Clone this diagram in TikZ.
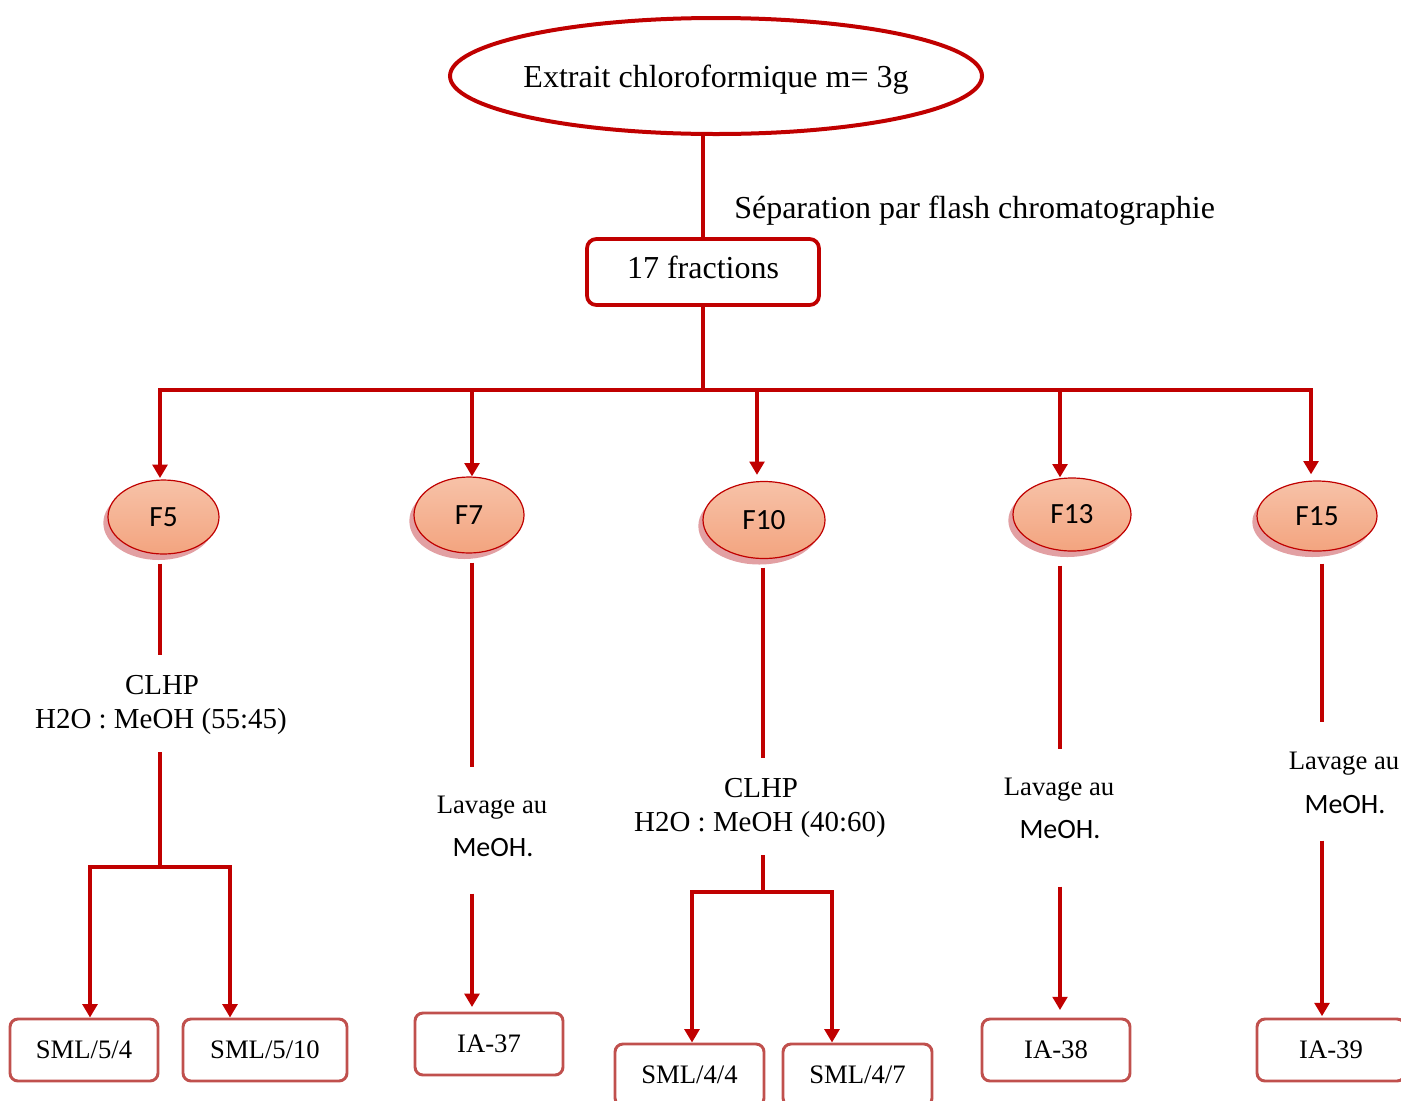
\documentclass[tikz,border=0pt]{standalone}
\usepackage{fontspec}
\setmainfont{Liberation Serif}
\newfontfamily\carlito{Carlito}
\usetikzlibrary{shapes.geometric,arrows.meta,shadows}

\definecolor{darkred}{HTML}{C00000}
\definecolor{boxred}{HTML}{C0504D}
\definecolor{salmontop}{HTML}{F7C2A8}
\definecolor{salmonbot}{HTML}{F3A47F}
\definecolor{shadowpink}{HTML}{E2A0A3}

\tikzset{
  wire/.style={draw=darkred, line width=2.8pt},
  arr/.style={wire, -{Triangle[length=10pt,width=11pt]}},
  txt/.style={inner sep=0pt, anchor=base},
  big/.style={font=\fontsize{24}{28}\selectfont},
  mid/.style={font=\fontsize{21.7}{26}\selectfont},
  small/.style={font=\fontsize{20}{24}\selectfont},
  calib/.style={font=\carlito\fontsize{21}{25}\selectfont},
  frac/.style={ellipse, draw=darkred, line width=0.9pt, top color=salmontop,
    bottom color=salmonbot, inner sep=0pt, font=\carlito\fontsize{22}{26}\selectfont,
    drop shadow={shadow xshift=-3.5pt, shadow yshift=-4.5pt, fill=shadowpink, opacity=1}},
  result/.style={rectangle, draw=boxred, line width=2.2pt, rounded corners=6pt,
    minimum height=46.5pt, inner sep=0pt, font=\fontsize{20}{24}\selectfont},
}

\begin{document}
\begin{tikzpicture}[x=0.75pt,y=-0.75pt]
\useasboundingbox (0,0) rectangle (1401,1100);

% extract and flash chromatography
\node[ellipse, draw=darkred, line width=3pt, minimum width=399pt, minimum height=87pt,
  inner sep=0pt] (ext) at (716,76) {};
\node[big, inner sep=0pt, text depth=0pt] (extlbl) at (ext.center) {Extrait chloroformique m= 3g};
\node[rectangle, draw=darkred, line width=2.8pt, rounded corners=7pt, minimum width=174pt,
  minimum height=49.5pt, big, text depth=7pt] (f17) at (703,272) {17 fractions};
\draw[wire] (ext.south -| f17.north) -- (f17.north);
\node[txt, anchor=base west, big] (sep) at (734,218) {Séparation par flash chromatographie};

% distribution bar
\coordinate (k5) at (160,390);
\coordinate (k7) at (472,390);
\coordinate (k10) at (757,390);
\coordinate (k13) at (1060,390);
\coordinate (k15) at (1311,390);
\draw[wire] (f17.south) -- (f17.south |- k5);
\draw[wire, line cap=rect] (k5) -- (k15);

% selected fractions
\node[frac, minimum width=83.25pt, minimum height=55.5pt] (F5) at (163.5,517) {F5};
\node[frac, minimum width=82.5pt, minimum height=57pt] (F7) at (469,515) {F7};
\node[frac, minimum width=91.5pt, minimum height=57.75pt] (F10) at (764,520) {F10};
\node[frac, minimum width=88.5pt, minimum height=54.75pt] (F13) at (1072,514.5) {F13};
\node[frac, minimum width=90pt, minimum height=52.5pt] (F15) at (1317,516) {F15};

\draw[arr, shorten >=1pt] (k5) -- (k5 |- F5.north);
\draw[arr] (k7) -- (k7 |- F7.north);
\draw[arr, shorten >=4.5pt] (k10) -- (k10 |- F10.north);
\draw[arr] (k13) -- (k13 |- F13.north);
\draw[arr, shorten >=4.5pt] (k15) -- (k15 |- F15.north);

% F5: HPLC
\node[txt, mid] (c5a) at (162,694) {CLHP};
\node[txt, mid] (c5b) at (161,728) {H2O : MeOH (55:45)};
\coordinate (j5) at (160,867);
\coordinate (j5l) at (90,867);
\coordinate (j5r) at (230,867);
\draw[wire, shorten <=6.75pt, shorten >=15pt] (F5.south -| k5) -- (k5 |- c5a.north);
\draw[wire, shorten <=13.3pt] (k5 |- c5b.south) -- (j5);
\draw[wire, line cap=rect] (j5l) -- (j5r);
\node[result, minimum width=111pt] (s54) at (84,1050) {SML/5/4};
\node[result, minimum width=123pt] (s510) at (265,1050) {SML/5/10};
\draw[arr] (j5l) -- (j5l |- s54.north);
\draw[arr] (j5r) -- (j5r |- s510.north);

% F7: methanol wash
\node[txt, small] (l7a) at (492,813) {Lavage au};
\node[txt, calib] (m7) at (493,856) {MeOH.};
\node[result, minimum width=111pt] (ia37) at (489,1044) {IA-37};
\draw[wire, shorten <=6.75pt, shorten >=21pt] (F7.south -| k7) -- (k7 |- l7a.north);
\draw[arr, shorten <=27.75pt, shorten >=3.4pt] (k7 |- m7.south) -- (k7 |- ia37.north);

% F10: HPLC
\coordinate (j10) at (763,892);
\coordinate (j10l) at (692,892);
\coordinate (j10r) at (832,892);
\node[txt, mid] (c10a) at (761,797) {CLHP};
\node[txt, mid] (c10b) at (760,831) {H2O : MeOH (40:60)};
\draw[wire, shorten <=6.4pt, shorten >=14.85pt] (F10.south -| j10) -- (j10 |- c10a.north);
\draw[wire, shorten <=13.3pt] (j10 |- c10b.south) -- (j10);
\draw[wire, line cap=rect] (j10l) -- (j10r);
\node[result, minimum width=111.75pt] (s44) at (689.5,1075) {SML/4/4};
\node[result, minimum width=111.75pt] (s47) at (857.5,1075) {SML/4/7};
\draw[arr] (j10l) -- (j10l |- s44.north);
\draw[arr] (j10r) -- (j10r |- s47.north);

% F13: methanol wash
\node[txt, small] (l13a) at (1059,795) {Lavage au};
\node[txt, calib] (m13) at (1060,838) {MeOH.};
\node[result, minimum width=111pt] (ia38) at (1056,1050) {IA-38};
\draw[wire, shorten <=10.5pt, shorten >=21.2pt] (F13.south -| k13) -- (k13 |- l13a.north);
\draw[arr, shorten <=36pt, shorten >=5.6pt] (k13 |- m13.south) -- (k13 |- ia38.north);

% F15: methanol wash
\coordinate (d15) at (1322,563);
\node[txt, small] (l15a) at (1344,769) {Lavage au};
\node[txt, calib] (m15) at (1345,813) {MeOH.};
\node[result, minimum width=111pt] (ia39) at (1331,1050) {IA-39};
\draw[wire, shorten <=9pt, shorten >=22pt] (F15.south -| d15) -- (d15 |- l15a.north);
\draw[arr, shorten <=20.25pt, shorten >=1pt] (d15 |- m15.south) -- (d15 |- ia39.north);
\end{tikzpicture}
\end{document}
